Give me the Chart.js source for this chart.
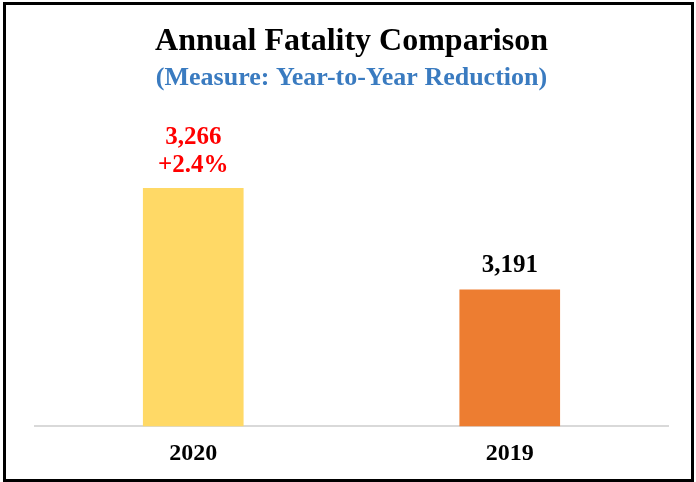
<!DOCTYPE html>
<html lang="en">
<head>
  <meta charset="UTF-8" />
  <title>Annual Fatality Comparison</title>
  <script src="https://cdn.jsdelivr.net/npm/chart.js"></script>
  <style>
    html, body { margin: 0; padding: 0; background: #fff; }
    #wrap { position: relative; width: 696px; height: 482px; }
    #frame {
      position: absolute; left: 3px; top: 2px; width: 691px; height: 480px;
      border: 3px solid #000; box-sizing: border-box; pointer-events: none;
    }
  </style>
</head>
<body>
  <div id="wrap">
    <canvas id="chart" width="696" height="482"></canvas>
    <div id="frame"></div>
  </div>

  <script>
    // data
    const years = ['2020', '2019'];
    const fatalities = [3266, 3191];
    const changeLabels = ['+2.4%', ''];
    const labelColors = ['#FF0000', '#000000'];
    const barColors = ['#FFD966', '#ED7D31'];

    const serif = "'Liberation Serif', 'Times New Roman', serif";

    // value labels above the bars
    const barLabels = {
      id: 'barLabels',
      afterDatasetsDraw(chart) {
        const ctx = chart.ctx;
        const meta = chart.getDatasetMeta(0);
        ctx.save();
        ctx.font = 'bold 25px ' + serif;
        ctx.textAlign = 'center';
        ctx.textBaseline = 'middle';
        meta.data.forEach((bar, i) => {
          ctx.fillStyle = labelColors[i];
          const value = fatalities[i].toLocaleString('en-US');
          if (changeLabels[i]) {
            ctx.fillText(changeLabels[i], bar.x, bar.y - 23);
            ctx.fillText(value, bar.x, bar.y - 51);
          } else {
            ctx.fillText(value, bar.x, bar.y - 24);
          }
        });
        ctx.restore();
      }
    };

    new Chart(document.getElementById('chart'), {
      type: 'bar',
      data: {
        labels: years,
        datasets: [{
          data: fatalities,
          backgroundColor: barColors,
          borderWidth: 0,
          barThickness: 100
        }]
      },
      options: {
        responsive: false,
        animation: false,
        layout: { padding: { left: 35, right: 28, top: 0, bottom: 1 } },
        plugins: {
          legend: { display: false },
          tooltip: { enabled: false },
          title: {
            display: true,
            text: 'Annual Fatality Comparison',
            color: '#000',
            font: { family: serif, size: 32, weight: 'bold', lineHeight: 1.2 },
            padding: { top: 23, bottom: 0 }
          },
          subtitle: {
            display: true,
            text: '(Measure: Year-to-Year Reduction)',
            color: '#3A7BC0',
            font: { family: serif, size: 26, weight: 'bold', lineHeight: 1.2 },
            padding: { top: 1, bottom: 7 }
          }
        },
        scales: {
          x: {
            grid: { display: false, drawTicks: false },
            border: { display: true, color: '#D9D9D9', width: 2 },
            ticks: {
              color: '#000',
              padding: 13,
              font: { family: serif, size: 24, weight: 'bold', lineHeight: 1.2 }
            }
          },
          y: {
            display: false,
            min: 3090,
            max: 3331
          }
        }
      },
      plugins: [barLabels]
    });
  </script>
</body>
</html>
